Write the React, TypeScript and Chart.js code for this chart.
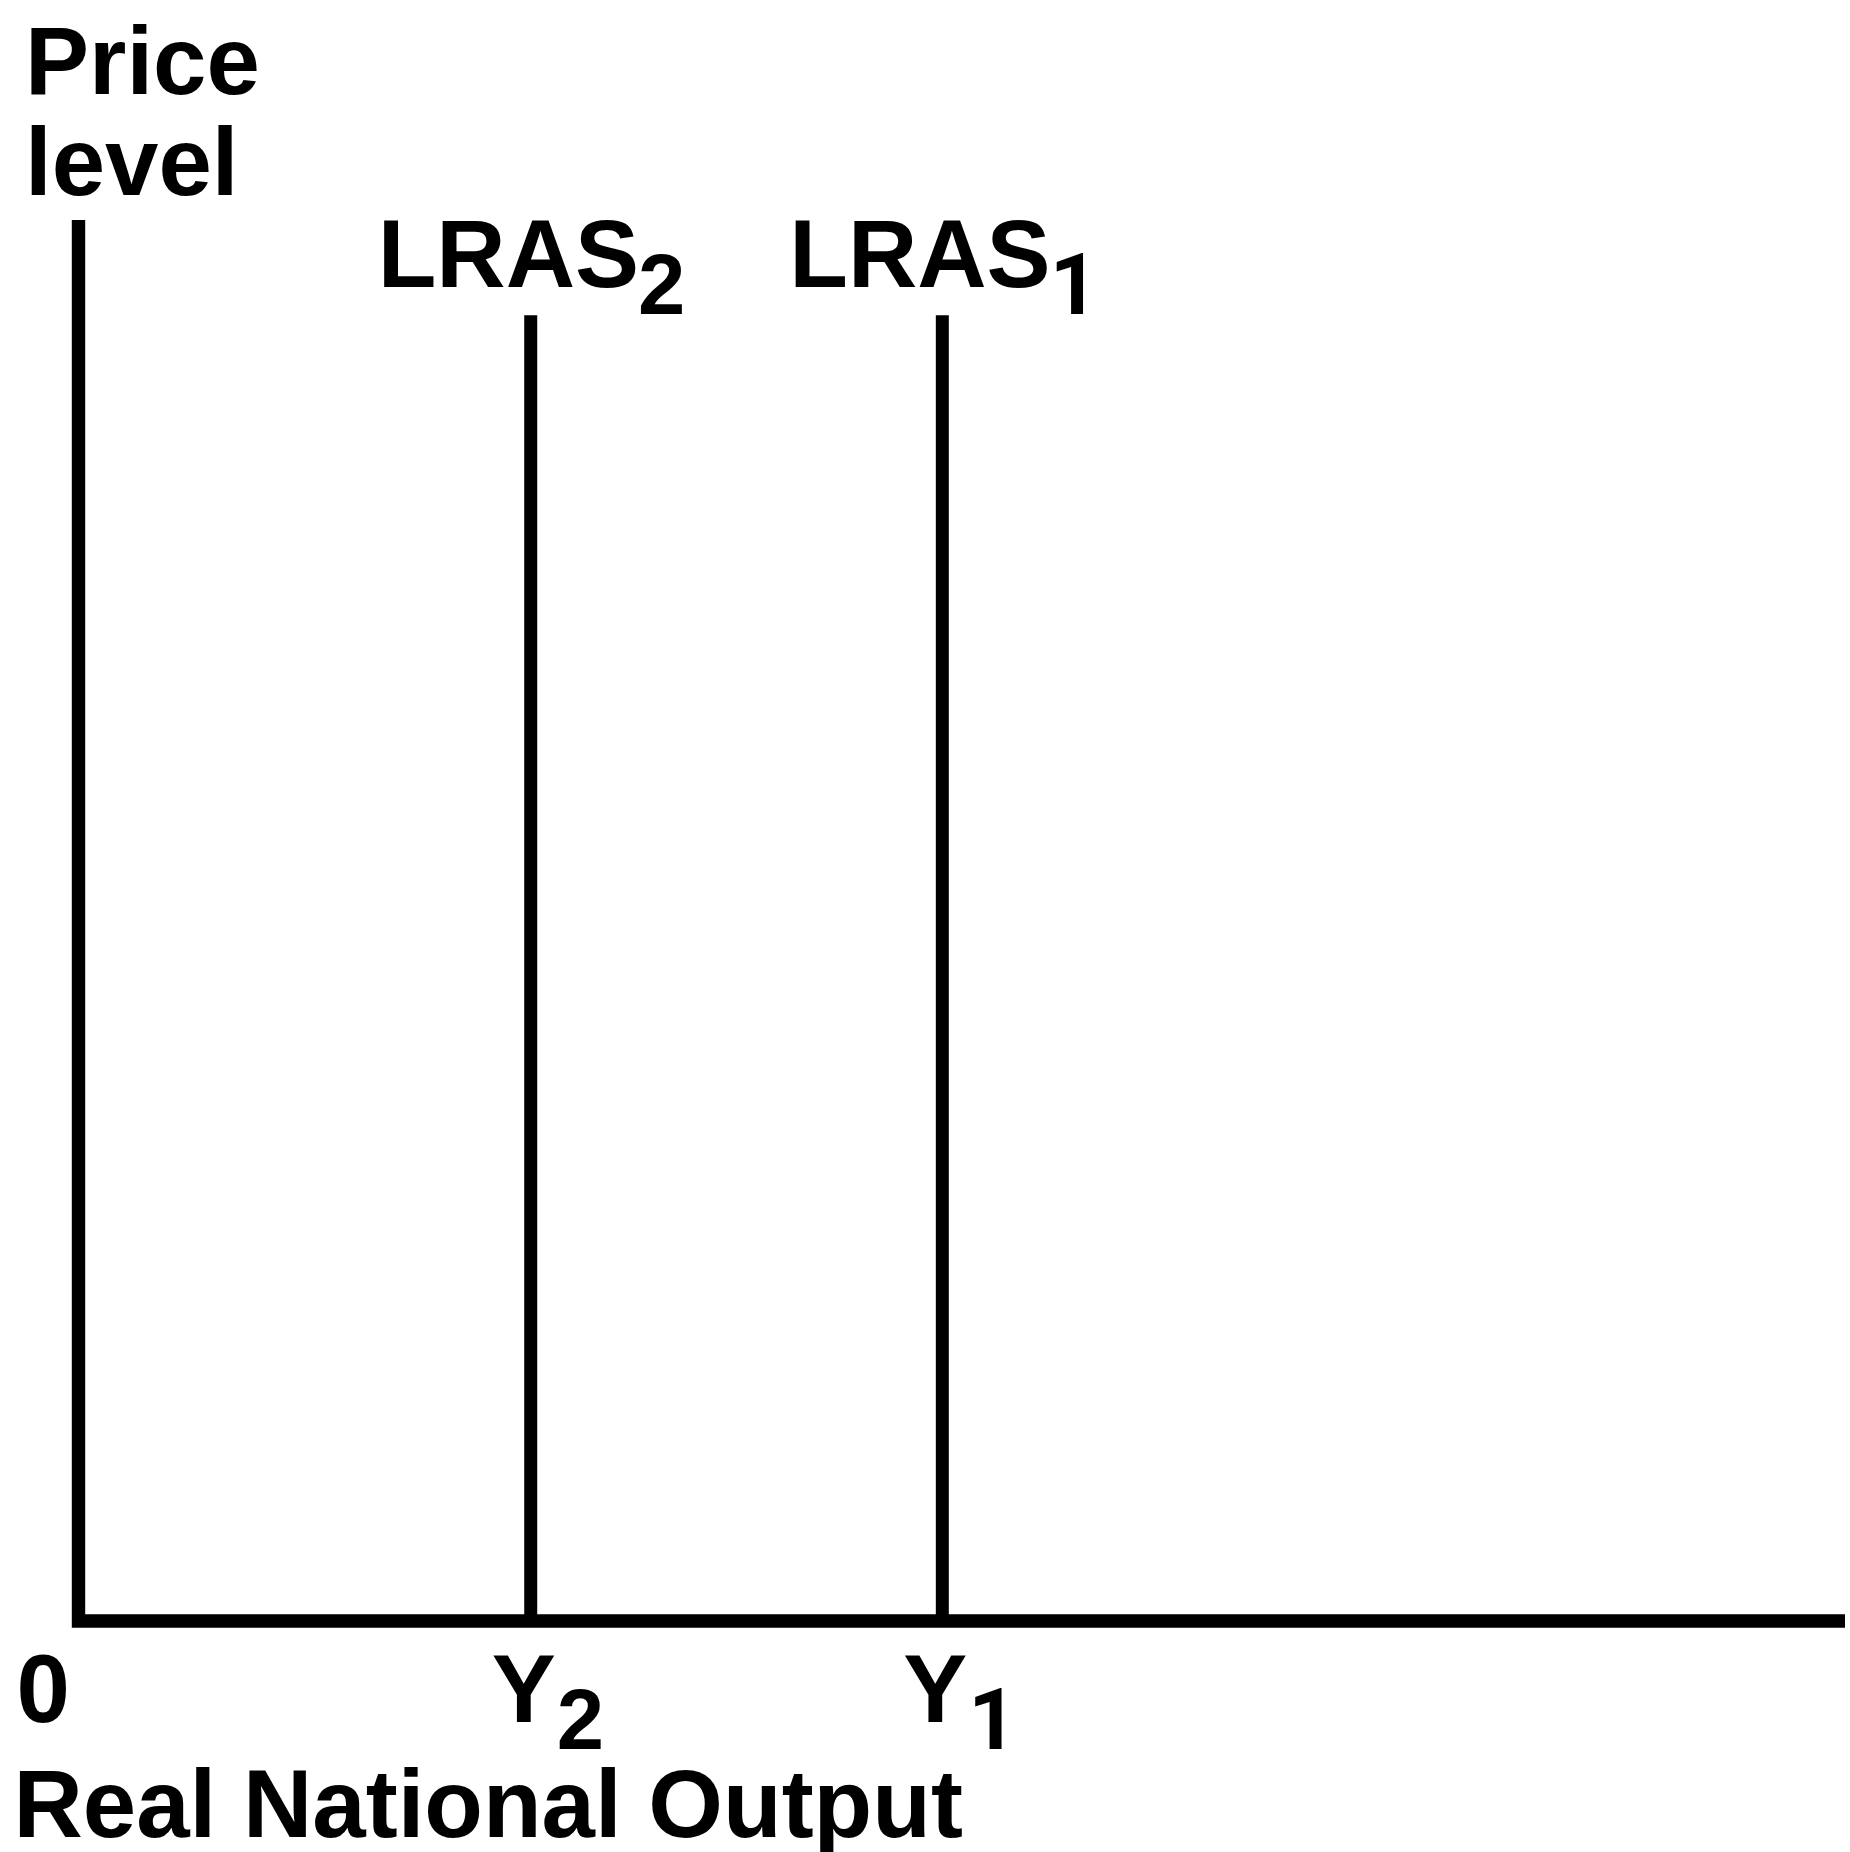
import React, { useEffect, useRef } from "react";
import { Chart, registerables } from "chart.js";

Chart.register(...registerables);

// ---- data ----
const xRange = [0, 100];
const yRange = [0, 100];
const lrasNames = ["LRAS", "LRAS"];
const lrasSubs = ["2", "1"];
const lrasX = [25.6, 48.9];
const lrasTop = 93.2;
const outputTickNames = ["Y", "Y"];
const outputTickSubs = ["2", "1"];
const originLabel = "0";
const yTitleLines = ["Price", "level"];
const xTitle = "Real National Output";

const FONT_FAMILY = '"Liberation Sans", Arial, Helvetica, sans-serif';
const MAIN_FONT = `bold 96px ${FONT_FAMILY}`;
const subFont = (s: string) =>
  s === "1" ? `bold 85px Roboto, ${FONT_FAMILY}` : `bold 85px ${FONT_FAMILY}`;

const labelsPlugin = {
  id: "econLabels",
  afterDraw(chart: any) {
    const { ctx, scales } = chart;
    const xs = scales.x;
    const ys = scales.y;
    const x0 = xs.getPixelForValue(xRange[0]);
    const y0 = ys.getPixelForValue(yRange[0]);
    const yTopPix = ys.getPixelForValue(yRange[1]);
    ctx.save();
    ctx.fillStyle = "#000";
    ctx.textBaseline = "alphabetic";
    ctx.textAlign = "left";

    // y-axis title
    ctx.font = MAIN_FONT;
    ctx.fillText(yTitleLines[0], x0 - 53.5, yTopPix - 126);
    ctx.fillText(yTitleLines[1], x0 - 53.5, yTopPix - 25);

    // LRAS labels
    const lineTopPix = ys.getPixelForValue(lrasTop);
    lrasX.forEach((v, i) => {
      const px = xs.getPixelForValue(v);
      ctx.font = MAIN_FONT;
      const tx = px - 153;
      const ty = lineTopPix - 28;
      ctx.fillText(lrasNames[i], tx, ty);
      const w = ctx.measureText(lrasNames[i]).width;
      ctx.font = subFont(lrasSubs[i]);
      ctx.fillText(lrasSubs[i], tx + w - 1, ty + 27);
    });

    // x ticks
    const tickBase = y0 + 100.7;
    ctx.font = MAIN_FONT;
    ctx.fillText(originLabel, x0 - 62, tickBase);
    lrasX.forEach((v, i) => {
      const px = xs.getPixelForValue(v);
      ctx.font = MAIN_FONT;
      const tx = px - 39;
      ctx.fillText(outputTickNames[i], tx, tickBase);
      const w = ctx.measureText(outputTickNames[i]).width;
      ctx.font = subFont(outputTickSubs[i]);
      ctx.fillText(outputTickSubs[i], tx + w + 1, tickBase + 27);
    });

    // x title
    ctx.font = MAIN_FONT;
    ctx.fillText(xTitle, x0 - 65, y0 + 215.7);
    ctx.restore();
  },
};

export default function App() {
  const ref = useRef<HTMLCanvasElement | null>(null);
  useEffect(() => {
    document.body.style.margin = "0";
    const canvas = ref.current;
    if (!canvas) return;
    const axisData = [
      { x: xRange[0], y: yRange[1] },
      { x: xRange[0], y: yRange[0] },
      { x: xRange[1], y: yRange[0] },
    ];
    const lrasDatasets = lrasX.map((v, i) => ({
      label: lrasNames[i] + lrasSubs[i],
      data: [
        { x: v, y: yRange[0] },
        { x: v, y: lrasTop },
      ],
      borderColor: "#000",
      borderWidth: 13,
      borderCapStyle: "butt" as const,
      pointRadius: 0,
      showLine: true,
      clip: false as any,
    }));
    const chart = new Chart(canvas, {
      type: "scatter",
      data: {
        datasets: [
          {
            label: "axes",
            data: axisData,
            borderColor: "#000",
            borderWidth: 13.4,
            borderJoinStyle: "miter",
            borderCapStyle: "butt",
            pointRadius: 0,
            showLine: true,
            clip: false as any,
          },
          ...lrasDatasets,
        ],
      },
      options: {
        responsive: false,
        animation: false,
        layout: { padding: { left: 78.5, right: 5, top: 220, bottom: 231 } },
        plugins: {
          legend: { display: false },
          tooltip: { enabled: false },
        },
        scales: {
          x: { type: "linear", display: false, min: xRange[0], max: xRange[1] },
          y: { type: "linear", display: false, min: yRange[0], max: yRange[1] },
        },
      },
      plugins: [labelsPlugin],
    });
    return () => chart.destroy();
  }, []);
  return (
    <div style={{ position: "absolute", left: 0, top: 0, width: 1850, height: 1852, background: "#fff" }}>
      <canvas ref={ref} width={1850} height={1852} style={{ display: "block" }} aria-label="LRAS shift chart" />
    </div>
  );
}
